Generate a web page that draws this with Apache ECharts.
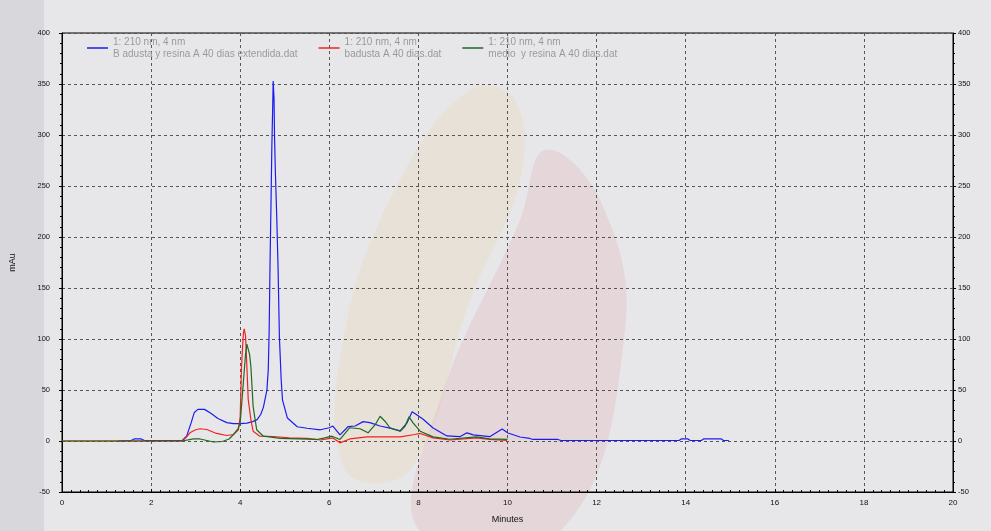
<!DOCTYPE html>
<html><head><meta charset="utf-8">
<script src="https://cdn.jsdelivr.net/npm/echarts@6/dist/echarts.min.js"></script>
<style>html,body{margin:0;padding:0;background:#e7e7e9;} #c{width:991px;height:531px;}</style>
</head><body><div id="c"></div>
<script>
// Blue: B adusta y resina A 40 dias extendida.dat
const xBlue = [1.26,1.55,1.62,1.78,1.85,2.7,2.8,2.9,2.97,3.05,3.2,3.35,3.5,3.7,3.85,4.0,4.15,4.28,4.38,4.46,4.52,4.6,4.63,4.65,4.67,4.69,4.71,4.73,4.74,4.75,4.76,4.77,4.79,4.82,4.85,4.88,4.92,4.95,5.06,5.28,5.5,5.8,6.0,6.08,6.24,6.42,6.58,6.76,6.91,7.14,7.36,7.59,7.74,7.86,7.92,8.1,8.33,8.64,8.93,9.09,9.23,9.6,9.88,10.01,10.28,10.5,10.57,11.13,11.2,13.85,13.9,14.05,14.1,14.35,14.4,14.8,14.85,14.97];
const yBlue = [0,0.5,2,2,0.5,0.5,5,18,28,31,31,27,22,18,17,17,17.5,19,21,26,33,50,70,107,175,229,288,329,353,353,335,300,263,220,170,102,60,40,22.5,14,12.5,11,13,14.7,6,14,14.7,19,18,14.7,12.7,10,17.5,28.7,27,21.5,12.7,5,4.2,8,6,4.2,11.7,7.8,3.9,2.5,1.5,1.5,0.5,0.5,2,2,0.5,0.5,2,2,0.5,0.5];
// Red: badusta A 40 dias.dat
const xRed = [0,2.7,2.8,2.87,3.0,3.1,3.25,3.47,3.7,3.85,3.96,4.0,4.03,4.07,4.09,4.12,4.15,4.18,4.24,4.29,4.44,4.74,5.1,5.5,5.8,6.02,6.08,6.24,6.46,6.85,7.59,7.92,8.04,8.33,8.71,9.3,9.6,9.99];
const yRed = [0,0,4,8,11,12,11.3,7.4,5.4,6.4,11,24,73,105,110,103,73,40.7,21,9.6,4.7,4.4,3,2.5,1,2.5,3,-1.8,2,4,4,6.4,7.4,3,1,3,1.5,0.5];
// Green: medio y resina A 40 dias.dat
const xGreen = [0,2.7,2.95,3.1,3.4,3.6,3.75,3.85,3.95,4.0,4.07,4.12,4.15,4.18,4.21,4.24,4.29,4.37,4.52,4.9,5.72,5.9,6.06,6.24,6.46,6.69,6.87,7.03,7.14,7.25,7.36,7.59,7.7,7.79,7.88,8.04,8.33,8.71,9.3,9.6,10.0];
const yGreen = [0,0,2,2,-1,-0.5,2,6.4,12,18,57,85,95,95,85,73,34,11,4.7,2.5,1.5,3,4.7,1.5,13,12,8,16,24.3,19.4,13,9.6,14.5,23.7,17.8,9.6,4,1.7,4,2,1.5];

const seriesNames = ['B adusta y resina A 40 dias extendida.dat','badusta A 40 dias.dat','medio  y resina A 40 dias.dat'];
const seriesColors = ['#1c1cf0','#f42020','#1e6a1e'];
const legendPrefix = '1: 210 nm, 4 nm';
const yTicks = {min:-50, max:400, interval:50};
const xTicks = {min:0, max:20, interval:2};

const zip = (xs, ys) => xs.map((x, i) => [x, ys[i]]);
const numFont = 'Liberation Sans Narrow, Arial Narrow, Liberation Sans, sans-serif';

const chart = echarts.init(document.getElementById('c'), null, {renderer:'canvas'});
const yAxisBase = (pos) => ({
  type:'value', position:pos, min:yTicks.min, max:yTicks.max, interval:yTicks.interval,
  axisLine:{show:true, onZero:false, lineStyle:{color:'#000', width:1}},
  axisTick:{show:true, length:3, lineStyle:{color:'#000'}},
  minorTick:{show:true, splitNumber:5, length:2, lineStyle:{color:'#000'}},
  axisLabel:{color:'#111', fontSize:7.5, fontFamily:numFont, margin: pos==='left'?12:5},
  splitLine:{show: pos==='left', lineStyle:{color:'#555', type:[3,3], width:1}}
});
chart.setOption({
  animation:false,
  backgroundColor:'transparent',
  graphic:[
    {type:'polygon', z:-10, silent:true, shape:{smooth:0.4, points:[[470,90],[515,100],[520,180],[470,300],[410,470],[345,470],[345,330],[400,180]]}, style:{fill:'rgba(235,205,150,0.22)'}},
    {type:'polygon', z:-10, silent:true, shape:{smooth:0.4, points:[[545,150],[600,200],[625,330],[560,531],[420,531],[440,400],[520,220]]}, style:{fill:'rgba(225,165,175,0.25)'}},
    {type:'rect', z:-10, silent:true, shape:{x:0,y:0,width:44,height:531}, style:{fill:'rgba(190,190,198,0.35)'}}
  ],
  grid:{left:62, right:38, top:33, bottom:39, show:true, borderColor:'#000', borderWidth:1, backgroundColor:'transparent'},
  legend:{
    left:82, top:31, itemGap:21, itemWidth:21, itemHeight:1.5, icon:'rect',
    textStyle:{color:'#9a9a9a', fontSize:10, fontFamily:'Liberation Sans, Arial, sans-serif', lineHeight:12},
    formatter: (n) => legendPrefix + '\n' + n,
    data: seriesNames
  },
  xAxis:{
    type:'value', min:xTicks.min, max:xTicks.max, interval:xTicks.interval,
    name:'Minutes', nameLocation:'middle', nameGap:23,
    nameTextStyle:{color:'#111', fontSize:9, fontFamily:'Liberation Sans, Arial, sans-serif'},
    axisLine:{show:true, onZero:false, lineStyle:{color:'#000'}},
    axisTick:{show:true, inside:true, length:3, lineStyle:{color:'#000'}},
    minorTick:{show:true, splitNumber:10, length:2, lineStyle:{color:'#000'}},
    axisLabel:{color:'#111', fontSize:8, fontFamily:numFont, margin:7},
    splitLine:{show:true, lineStyle:{color:'#555', type:[3,3], width:1}}
  },
  yAxis:[
    Object.assign(yAxisBase('left'), {name:'mAu', nameLocation:'middle', nameGap:45, nameRotate:90,
      nameTextStyle:{color:'#111', fontSize:9, fontFamily:'Liberation Sans, Arial, sans-serif'}}),
    yAxisBase('right')
  ],
  series:[
    {name:seriesNames[0], type:'line', data:zip(xBlue,yBlue), symbol:'none', color:seriesColors[0], lineStyle:{width:1.2}, z:3},
    {name:seriesNames[1], type:'line', data:zip(xRed,yRed), symbol:'none', color:seriesColors[1], lineStyle:{width:1.2}, z:4},
    {name:seriesNames[2], type:'line', data:zip(xGreen,yGreen), symbol:'none', color:seriesColors[2], lineStyle:{width:1.2}, z:5}
  ]
});
</script></body></html>
